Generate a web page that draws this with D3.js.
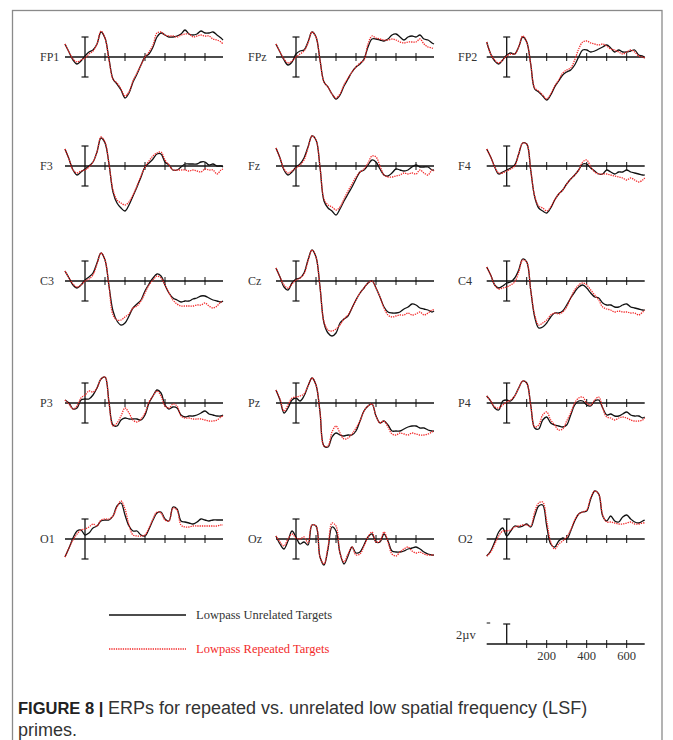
<!DOCTYPE html>
<html><head><meta charset="utf-8">
<script src="https://cdnjs.cloudflare.com/ajax/libs/d3/7.8.5/d3.min.js"></script>
<style>html,body{margin:0;padding:0;background:#fff;}svg{display:block;}</style>
</head><body><svg id="c" width="673" height="740"></svg>
<script>
// time points (ms)
const times = [-100,-80,-60,-40,-20,0,20,40,60,80,100,120,140,160,180,200,220,240,260,280,300,320,340,360,380,400,420,440,460,480,500,520,540,560,580,600,620,640,660,680,690];
const tickTimes = [100,200,300,400,500,600];
const scaleLabels = ["200","400","600"];
const electrodes = ["FP1","FPz","FP2","F3","Fz","F4","C3","Cz","C4","P3","Pz","P4","O1","Oz","O2"];
const seriesNames = ["Lowpass Unrelated Targets","Lowpass Repeated Targets"];

// values in µV, positive plotted upward
const fp1Unrelated = [1.3,0.5,-0.3,-0.7,-0.4,0.1,0.5,0.7,1.3,2.5,1.9,-0.2,-2.2,-2.7,-3.3,-4.1,-3.6,-2.5,-1.7,-0.8,0,0.3,1.0,2.0,2.4,2.2,2.0,2.0,2.1,2.3,2.7,2.3,2.2,2.3,2.6,2.4,2.4,2.5,2.2,1.9,1.7];
const fp1Repeated  = [1.3,0.5,-0.2,-0.5,-0.3,-0.1,0.3,0.6,1.3,2.6,1.9,-0.3,-2.2,-2.6,-3.2,-3.9,-3.5,-2.4,-1.6,-0.8,0,0.5,1.2,2.4,2.5,2.2,2.1,2.1,2.0,2.2,2.3,2.3,2.0,2.1,2.2,2.1,2.1,1.8,1.7,1.5,1.3];
const fpzUnrelated = [1.3,0.5,-0.3,-0.8,-0.5,0.3,0.6,0.7,1.5,2.5,2.0,-0.3,-2.5,-3.0,-3.7,-4.2,-3.8,-2.9,-2.2,-1.5,-1.0,-0.7,-0.2,1.0,1.8,1.8,1.7,1.6,1.8,2.2,2.3,2.0,1.7,2.0,2.1,2.0,2.2,1.8,1.7,1.4,1.3];
const fpzRepeated  = [1.3,0.5,-0.2,-0.6,-0.4,0.0,0.3,0.6,1.4,2.5,2.0,-0.3,-2.5,-3.0,-3.7,-4.1,-3.7,-2.8,-2.1,-1.5,-1.0,-0.6,-0.3,1.3,2.1,1.9,1.8,1.7,1.7,1.8,1.7,1.5,1.4,1.5,1.5,1.5,1.8,1.3,1.0,0.9,0.8];
const fp2Unrelated = [1.5,0.3,-0.4,-0.7,-0.3,0.2,0.4,0.3,1.0,2.0,1.5,-0.7,-3.2,-3.5,-3.9,-4.3,-3.8,-3.0,-2.4,-1.8,-1.5,-1.3,-0.8,0,0.7,0.7,0.5,0.6,0.8,1.0,1.2,0.9,0.5,0.7,0.5,0.5,0.6,0.7,0.2,0.1,-0.1];
const fp2Repeated  = [1.5,0.3,-0.3,-0.6,-0.3,0.1,0.3,0.3,1.0,2.1,1.5,-0.7,-3.1,-3.4,-3.8,-4.2,-3.7,-2.9,-2.3,-1.6,-1.3,-1.1,-0.3,0.8,1.5,1.6,1.4,1.3,1.2,1.3,1.1,0.8,0.7,0.5,0.3,0.5,0.7,0.5,0.1,0,-0.1];
const f3Unrelated  = [1.7,0.7,-0.4,-0.9,-0.6,-0.3,0,0.4,1.4,2.8,2.3,0.2,-2.6,-3.7,-4.2,-4.5,-3.9,-3.0,-2.1,-1.1,-0.1,0.3,0.7,1.2,1.2,0.4,0.1,-0.4,-0.4,-0.1,0.2,0.2,0.2,0.2,0.4,0.4,0.1,0.2,0,0,-0.1];
const f3Repeated   = [1.7,0.7,-0.4,-0.7,-0.5,-0.4,-0.1,0.4,1.4,2.9,2.4,0.2,-2.4,-3.4,-3.7,-3.9,-3.6,-2.9,-2.0,-1.0,-0.1,0.5,1.0,1.3,1.4,0.6,0.1,-0.4,-0.4,-0.4,-0.4,-0.5,-0.4,-0.5,-0.6,-0.3,-0.4,-0.4,-0.8,-0.4,-0.3];
const fzUnrelated  = [1.8,0.8,-0.4,-0.9,-0.6,-0.1,0.2,0.8,1.9,3.0,2.6,-0.1,-3.5,-4.2,-4.5,-4.9,-4.3,-3.5,-2.8,-2.1,-1.3,-0.6,-0.4,0.1,0.6,0.4,-0.3,-0.9,-1.0,-0.7,-0.3,-0.4,-0.5,-0.4,-0.1,0.1,-0.1,-0.1,-0.1,-0.4,-0.4];
const fzRepeated   = [1.8,0.8,-0.3,-0.7,-0.5,-0.2,0.1,0.6,1.8,3.0,2.6,-0.1,-3.3,-3.9,-4.1,-4.4,-4.1,-3.3,-2.5,-1.8,-1.1,-0.6,-0.3,0.3,1.0,0.9,0,-0.9,-1.1,-1.1,-1.0,-0.9,-0.7,-0.8,-0.7,-0.8,-0.4,-0.7,-0.9,-0.4,-0.5];
const f4Unrelated  = [1.7,0.9,-0.1,-0.8,-0.6,-0.4,-0.2,0.1,1.2,2.3,2.2,-0.4,-3.1,-4.2,-4.5,-4.7,-4.2,-3.4,-2.8,-2.4,-1.8,-1.3,-0.9,-0.4,0.2,0.2,-0.2,-0.5,-0.8,-0.8,-0.4,-0.6,-0.8,-0.6,-0.6,-0.4,-0.6,-0.7,-0.8,-0.9,-0.9];
const f4Repeated   = [1.7,0.9,-0.1,-0.7,-0.7,-0.5,-0.3,0.0,1.2,2.3,2.2,-0.4,-3.0,-4.0,-4.2,-4.5,-4.1,-3.4,-2.8,-2.4,-1.8,-1.3,-0.9,-0.4,0.4,0.6,-0.1,-0.6,-0.8,-0.8,-0.8,-0.9,-1.0,-1.1,-1.2,-1.4,-1.2,-1.4,-1.6,-1.4,-1.2];
const c3Unrelated  = [1.0,0.3,-0.4,-0.7,-0.4,0.1,0.4,0.8,1.8,2.8,2.1,-0.5,-3.0,-4.0,-4.4,-4.2,-3.5,-2.7,-2.3,-1.9,-1.0,-0.3,0.3,0.7,0.5,-0.4,-1.2,-1.7,-1.9,-2.1,-2.0,-2.0,-1.8,-1.7,-1.5,-1.5,-1.7,-1.9,-2.0,-2.1,-2.0];
const c3Repeated   = [1.0,0.3,-0.3,-0.6,-0.4,0,0.2,0.6,1.7,2.8,2.1,-0.5,-3.4,-3.9,-3.9,-3.6,-3.3,-2.7,-2.5,-2.0,-1.2,-0.4,0.1,0.5,0.3,-0.4,-1.2,-1.9,-2.3,-2.5,-2.5,-2.5,-2.5,-2.4,-2.4,-2.2,-2.5,-2.7,-2.5,-2.1,-2.1];
const czUnrelated  = [1.3,0.4,-0.6,-0.9,-0.2,0.2,0.3,0.8,2.1,3.1,2.4,-0.6,-4.2,-5.2,-5.5,-5.2,-4.2,-3.8,-3.5,-2.7,-1.9,-1.2,-0.7,-0.2,0,-0.7,-1.6,-2.6,-3.1,-3.2,-3.2,-3.1,-2.8,-2.6,-2.3,-2.4,-2.7,-2.8,-2.9,-3.1,-3.0];
const czRepeated   = [1.3,0.4,-0.4,-0.7,-0.3,0.1,0.3,0.7,2.0,3.1,2.4,-0.6,-4.1,-4.9,-5.0,-4.8,-4.4,-3.8,-3.4,-2.7,-1.9,-1.2,-0.7,-0.2,0,-0.7,-1.6,-2.7,-3.4,-3.6,-3.5,-3.4,-3.4,-3.2,-3.4,-3.3,-3.1,-3.4,-3.2,-2.9,-2.9];
const c4Unrelated  = [1.4,0.6,-0.4,-0.7,-0.5,-0.2,-0.1,0.3,1.1,2.2,1.9,-0.9,-3.6,-4.7,-4.6,-4.2,-3.6,-3.2,-3.2,-3.0,-2.4,-1.7,-1.1,-0.6,-0.4,-0.7,-1.2,-1.6,-1.7,-2.2,-2.4,-2.4,-2.6,-2.6,-2.4,-2.3,-2.6,-2.7,-2.8,-2.9,-2.9];
const c4Repeated   = [1.4,0.6,-0.4,-0.8,-0.7,-0.6,-0.4,-0.1,0.9,2.1,1.9,-0.9,-3.4,-4.4,-4.2,-3.9,-3.4,-3.2,-3.3,-3.1,-2.6,-1.7,-0.9,-0.4,-0.2,-0.4,-0.9,-1.4,-1.9,-2.6,-2.8,-2.9,-3.1,-3.0,-3.1,-3.1,-3.2,-3.2,-3.4,-3.1,-2.9];
const p3Unrelated  = [0.3,0,-0.6,-0.5,0.3,0.4,0.4,0.8,1.5,2.4,2.6,0.1,-2.2,-2.3,-1.7,-1.5,-1.6,-1.6,-1.6,-1.7,-1.2,0,0.7,1.3,1.0,-0.2,-0.6,-0.4,-0.5,-1.2,-1.4,-1.3,-1.3,-1.2,-1.0,-0.8,-1.1,-1.2,-1.3,-1.3,-1.2];
const p3Repeated   = [0.3,-0.1,-0.6,-0.3,0.5,0.8,1.2,1.1,1.5,2.4,2.6,0,-2.3,-2.0,-1.3,-0.5,-1.0,-1.7,-1.9,-1.6,-1.0,0.1,0.7,1.2,0.7,-0.3,-0.5,-0.1,-0.3,-1.3,-1.5,-1.5,-1.6,-1.6,-1.6,-1.7,-1.8,-1.8,-1.7,-1.4,-1.3];
const pzUnrelated  = [1.3,0.3,-1.0,-0.5,0.3,0.5,0.2,0.7,1.7,2.5,1.8,-0.9,-4.3,-4.4,-3.4,-3.0,-3.2,-3.3,-3.2,-3.2,-2.8,-1.8,-0.8,-0.3,-0.1,-1.3,-2.0,-1.8,-2.2,-2.8,-2.8,-2.8,-2.6,-2.4,-2.3,-2.3,-2.5,-2.5,-2.7,-2.8,-2.8];
const pzRepeated   = [1.3,0.4,-0.8,-0.2,0.5,0.6,0.7,0.9,1.7,2.5,1.8,-0.9,-4.3,-4.3,-2.9,-2.3,-3.0,-3.6,-3.5,-3.1,-2.5,-1.8,-0.8,-0.3,-0.1,-1.3,-2.0,-1.8,-2.4,-3.1,-3.2,-3.0,-3.1,-3.2,-3.0,-3.1,-3.2,-3.2,-3.1,-2.9,-2.8];
const p4Unrelated  = [0.7,0.2,-0.5,-0.7,0.2,0.3,0.2,0.7,1.5,2.2,2.0,-0.2,-2.5,-2.6,-1.7,-1.4,-2.0,-2.2,-2.3,-2.4,-2.2,-1.2,-0.2,0.2,0.2,-0.2,-0.3,0.2,0.3,-0.5,-1.2,-1.1,-1.3,-1.3,-1.1,-0.9,-1.2,-1.3,-1.3,-1.5,-1.4];
const p4Repeated   = [0.7,0.2,-0.4,-0.5,-0.2,0.1,0.3,0.7,1.5,2.2,2.0,-0.2,-2.4,-2.2,-1.2,-0.9,-1.7,-2.2,-2.7,-2.6,-1.8,-1.0,0,0.5,0.6,0,-0.2,0.3,0.6,-0.5,-1.4,-1.5,-1.7,-1.5,-1.4,-1.5,-1.7,-1.8,-1.8,-1.7,-1.5];
const o1Unrelated  = [-1.8,-0.9,0.1,0.8,0.9,0.4,0.6,1.1,1.3,1.8,1.9,1.9,2.3,3.3,3.6,2.4,1.3,0.8,0.8,0.4,0.3,1.0,1.9,2.6,2.7,2.0,1.8,3.2,3.0,1.8,1.7,1.6,1.5,1.7,2.0,1.9,1.8,1.9,1.9,1.9,1.9];
const o1Repeated   = [-1.8,-0.9,-0.1,0.5,0.9,1.0,1.2,1.5,1.3,1.9,2.0,2.0,2.3,3.2,3.8,3.0,1.4,0.4,0.3,0.3,0.4,1.1,2.0,2.7,2.6,1.9,1.8,3.1,2.9,1.4,1.2,1.2,1.3,1.3,1.3,1.3,1.3,1.3,1.3,1.4,1.4];
const ozUnrelated  = [0.3,-0.5,-1.0,-0.2,0.8,0.2,-0.5,-0.3,-0.6,1.4,1.3,-1.8,-2.6,-1.0,1.2,0.8,-1.4,-2.5,-1.7,-0.8,-1.4,-1.3,-0.6,0.2,0.5,-0.3,-0.3,0.5,-0.2,-1.2,-1.3,-1.3,-1.2,-1.0,-0.9,-0.8,-1.0,-1.3,-1.5,-1.6,-1.6];
const ozRepeated   = [0.3,-0.3,-0.7,0,0.5,0.1,0,0.2,-0.4,1.4,1.3,-1.8,-2.5,-0.8,1.6,1.3,-1.4,-2.3,-1.5,-0.8,-1.6,-1.5,-0.7,0.2,0.7,-0.3,-0.2,0.7,-0.3,-1.5,-1.7,-1.3,-1.0,-0.8,-1.2,-1.4,-1.3,-1.5,-1.6,-1.6,-1.6];
const o2Unrelated  = [-1.7,-1.2,-0.3,0.7,1.1,0.3,0.8,1.3,1.2,1.3,1.5,1.2,2.3,3.3,3.4,1.3,-0.5,-0.8,-0.2,0.1,0,0.8,1.8,2.5,2.7,2.8,4.0,4.8,4.5,2.3,1.8,2.3,1.8,1.7,2.2,2.4,2.0,1.7,1.6,1.8,1.9];
const o2Repeated   = [-1.7,-1.3,-0.5,0.3,0.8,0.8,0.9,1.2,1.3,1.4,1.4,1.3,2.7,3.6,3.7,1.8,-0.3,-1.0,-0.5,-0.2,0.2,0.9,1.9,2.5,2.7,2.9,4.1,4.8,4.5,2.4,1.7,1.7,1.6,1.5,1.5,1.6,1.7,1.5,1.5,1.6,1.6];

const unrelated = [fp1Unrelated,fpzUnrelated,fp2Unrelated,f3Unrelated,fzUnrelated,f4Unrelated,c3Unrelated,czUnrelated,c4Unrelated,p3Unrelated,pzUnrelated,p4Unrelated,o1Unrelated,ozUnrelated,o2Unrelated];
const repeated  = [fp1Repeated,fpzRepeated,fp2Repeated,f3Repeated,fzRepeated,f4Repeated,c3Repeated,czRepeated,c4Repeated,p3Repeated,pzRepeated,p4Repeated,o1Repeated,ozRepeated,o2Repeated];

// layout
const colZero = [85, 296, 506.7];
const colLabelX = [40, 248, 458];
const rowAxisY = [57, 166, 281, 403, 539];
const RED = "#f22a2a";
const serif = "'Liberation Serif','Times New Roman',serif";

const svg = d3.select("#c");
svg.append("rect").attr("x",12.5).attr("y",10.5).attr("width",649.5).attr("height",760)
  .attr("fill","none").attr("stroke","#8a8a8a").attr("stroke-width",1.3);

function drawAxis(g, x, y0, yScale, full) {
  g.append("line").attr("x1",x.range()[0]).attr("x2",x.range()[1]).attr("y1",y0).attr("y2",y0)
    .attr("stroke","#111").attr("stroke-width",1.3);
  tickTimes.forEach(t => {
    g.append("line").attr("x1",x(t)).attr("x2",x(t)).attr("y1",y0-4).attr("y2",y0+4)
      .attr("stroke","#111").attr("stroke-width",1);
  });
  const bx = x(0);
  const top = yScale(2), bot = full ? yScale(-2) : yScale(0);
  g.append("line").attr("x1",bx).attr("x2",bx).attr("y1",top).attr("y2",bot).attr("stroke","#111").attr("stroke-width",1.3);
  g.append("line").attr("x1",bx-3.5).attr("x2",bx+3.5).attr("y1",top).attr("y2",top).attr("stroke","#111").attr("stroke-width",1.2);
  if (full) g.append("line").attr("x1",bx-3.5).attr("x2",bx+3.5).attr("y1",bot).attr("y2",bot).attr("stroke","#111").attr("stroke-width",1.2);
}

electrodes.forEach((name, i) => {
  const c = i % 3, r = Math.floor(i / 3);
  const z = colZero[c], a = rowAxisY[r];
  const x = d3.scaleLinear().domain([-100, 690]).range([z - 20, z + 138]);
  const y = d3.scaleLinear().domain([-2, 2]).range([a + 20, a - 20]);
  const g = svg.append("g");
  drawAxis(g, x, a, y, true);
  g.append("text").attr("x", colLabelX[c]).attr("y", a + 4).text(name)
    .attr("font-family", serif).attr("font-size", 12).attr("fill", "#333");
  const line = d3.line().x((d, k) => x(times[k])).y(d => y(d)).curve(d3.curveCatmullRom.alpha(0.5));
  g.append("path").attr("d", line(unrelated[i])).attr("fill","none").attr("stroke","#111").attr("stroke-width",1.3);
  g.append("path").attr("d", line(repeated[i])).attr("fill","none").attr("stroke",RED).attr("stroke-width",1.3)
    .attr("stroke-dasharray","1.3,1");
});

// legend
const lg = svg.append("g");
lg.append("line").attr("x1",109).attr("x2",186).attr("y1",615).attr("y2",615).attr("stroke","#111").attr("stroke-width",1.3);
lg.append("text").attr("x",196).attr("y",619).text(seriesNames[0]).attr("font-family",serif).attr("font-size",12.5).attr("fill","#333");
lg.append("line").attr("x1",109).attr("x2",186).attr("y1",649).attr("y2",649).attr("stroke",RED).attr("stroke-width",1.3).attr("stroke-dasharray","1.3,1");
lg.append("text").attr("x",196).attr("y",653).text(seriesNames[1]).attr("font-family",serif).attr("font-size",12.5).attr("fill",RED);

// scale legend
{
  const z = colZero[2], a = 644;
  const x = d3.scaleLinear().domain([-100, 690]).range([z - 20, z + 138]);
  const y = d3.scaleLinear().domain([-2, 2]).range([a + 20, a - 20]);
  const g = svg.append("g");
  drawAxis(g, x, a, y, false);
  g.append("line").attr("x1",x(-100)).attr("x2",x(-100)+3.5).attr("y1",y(2)-1).attr("y2",y(2)-1).attr("stroke","#111").attr("stroke-width",1);
  g.append("text").attr("x",456).attr("y",639).text("2µv").attr("font-family",serif).attr("font-size",12.5).attr("fill","#333");
  [200,400,600].forEach((t,k) => {
    g.append("text").attr("x",x(t)).attr("y",660).attr("text-anchor","middle").text(scaleLabels[k])
      .attr("font-family",serif).attr("font-size",12.5).attr("fill","#333");
  });
}

// caption
const capFont = "'Liberation Sans',Arial,sans-serif";
const cap = svg.append("text").attr("x",18).attr("y",714).attr("font-family",capFont).attr("font-size",17.5).attr("fill","#333");
cap.append("tspan").attr("font-weight","bold").attr("fill","#222").attr("font-size",16.5).text("FIGURE 8 | ");
cap.append("tspan").attr("font-size",18).text("ERPs for repeated vs. unrelated low spatial frequency (LSF)");
svg.append("text").attr("x",18).attr("y",736).attr("font-family",capFont).attr("font-size",18).attr("fill","#333").text("primes.");
</script></body></html>
